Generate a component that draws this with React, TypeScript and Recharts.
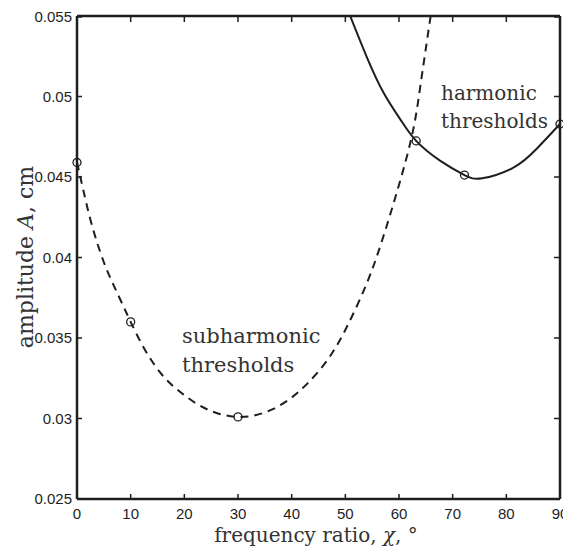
import React from "react";
import { ComposedChart, Line, Scatter, XAxis, YAxis } from "recharts";

const xTicks = [0, 10, 20, 30, 40, 50, 60, 70, 80, 90];
const yTicks = [0.025, 0.03, 0.035, 0.04, 0.045, 0.05, 0.055];

// subharmonic threshold (dashed)
const subX = [0, 1.1, 2.7, 4.9, 6.8, 8.6, 10, 12.1, 14.5, 17, 19.8, 22.9, 26.4, 30, 33.2, 36.6, 40, 43, 46.6, 50.3, 54, 56.5, 59.2, 62.3, 64, 65.9];
const subY = [0.0459, 0.0443, 0.0421, 0.0398, 0.0383, 0.037, 0.036, 0.0346, 0.0333, 0.0323, 0.0315, 0.0308, 0.0303, 0.0301, 0.0302, 0.0306, 0.0313, 0.0322, 0.0336, 0.0357, 0.0384, 0.0407, 0.0436, 0.0474, 0.0507, 0.055];

// harmonic threshold (solid)
const harX = [50.9, 54, 57.1, 60.3, 63.2, 67.7, 72.2, 75.5, 81.4, 85.8, 90];
const harY = [0.055, 0.05245, 0.05025, 0.04855, 0.04724, 0.046, 0.04512, 0.04492, 0.0456, 0.0468, 0.04829];

// circle markers
const markX = [0, 10, 30, 63.2, 72.2, 90];
const markY = [0.0459, 0.036, 0.0301, 0.04724, 0.04512, 0.04829];

const subData = subX.map((x, i) => ({ x, y: subY[i] }));
const harData = harX.map((x, i) => ({ x, y: harY[i] }));
const markData = markX.map((x, i) => ({ x, y: markY[i] }));

const INK = "#1e1e1e";
const TXT = "#333";
const SERIF = "'DejaVu Serif', serif";
const SANS = "'Liberation Sans', Arial, sans-serif";

const BottomTick = (props: any) => {
  const { x, y, payload } = props;
  return (
    <g>
      <line x1={x} x2={x} y1={y} y2={y - 5} stroke={INK} strokeWidth={1.5} />
      <text x={x} y={y + 20} textAnchor="middle" fontFamily={SANS} fontSize={15} fill={INK}>
        {payload.value}
      </text>
    </g>
  );
};

const LeftTick = (props: any) => {
  const { x, y, payload } = props;
  return (
    <g>
      <line x1={x} x2={x + 5} y1={y} y2={y} stroke={INK} strokeWidth={1.5} />
      <text x={x - 5} y={y} dy="0.36em" textAnchor="end" fontFamily={SANS} fontSize={15} fill={INK}>
        {String(payload.value)}
      </text>
    </g>
  );
};

const TopTick = (props: any) => {
  const { x, y } = props;
  return <line x1={x} x2={x} y1={y + 1} y2={y + 6} stroke={INK} strokeWidth={1.5} />;
};

const RightTick = (props: any) => {
  const { x, y } = props;
  return <line x1={x - 1} x2={x - 6} y1={y} y2={y} stroke={INK} strokeWidth={1.5} />;
};

export default function App() {
  return (
    <ComposedChart
      width={563}
      height={542}
      margin={{ top: 7, right: 10, bottom: 6, left: 9 }}
      style={{ background: "#fff" }}
    >
      <XAxis
        xAxisId={0}
        dataKey="x"
        type="number"
        domain={[0, 90]}
        ticks={xTicks}
        allowDataOverflow
        height={45}
        tickSize={0}
        tickMargin={0}
        tick={<BottomTick />}
        axisLine={{ stroke: INK, strokeWidth: 2.5 }}
        tickLine={false}
      />
      <XAxis
        xAxisId="top"
        orientation="top"
        dataKey="x"
        type="number"
        domain={[0, 90]}
        ticks={xTicks}
        height={1}
        tickSize={0}
        tickMargin={0}
        tick={<TopTick />}
        axisLine={{ stroke: INK, strokeWidth: 2.5 }}
        tickLine={false}
      />
      <YAxis
        yAxisId={0}
        type="number"
        domain={[0.025, 0.055]}
        ticks={yTicks}
        allowDataOverflow
        width={60}
        tickSize={0}
        tickMargin={0}
        tick={<LeftTick />}
        axisLine={{ stroke: INK, strokeWidth: 2.5 }}
        tickLine={false}
      />
      <YAxis
        yAxisId="r"
        orientation="right"
        type="number"
        domain={[0.025, 0.055]}
        ticks={yTicks}
        width={1}
        tickSize={0}
        tickMargin={0}
        tick={<RightTick />}
        axisLine={{ stroke: INK, strokeWidth: 2.5 }}
        tickLine={false}
      />
      <Line
        data={subData}
        dataKey="y"
        xAxisId={0}
        yAxisId={0}
        type="natural"
        stroke={INK}
        strokeWidth={2}
        strokeDasharray="8 6"
        dot={false}
        activeDot={false}
        isAnimationActive={false}
      />
      <Line
        data={harData}
        dataKey="y"
        xAxisId={0}
        yAxisId={0}
        type="natural"
        stroke={INK}
        strokeWidth={2}
        dot={false}
        activeDot={false}
        isAnimationActive={false}
      />
      <Scatter
        data={markData}
        dataKey="y"
        xAxisId="top"
        yAxisId="r"
        fill="none"
        stroke={INK}
        strokeWidth={1.3}
        shape={(p: any) => <circle cx={p.cx} cy={p.cy} r={4} fill="none" stroke={INK} strokeWidth={1.3} />}
        isAnimationActive={false}
      />
      <text x={433} y={92} fontFamily={SERIF} fontSize={20} fill={TXT}>harmonic</text>
      <text x={433} y={120} fontFamily={SERIF} fontSize={20} fill={TXT}>thresholds</text>
      <text x={174} y={335} fontFamily={SERIF} fontSize={21} fill={TXT}>subharmonic</text>
      <text x={174} y={364} fontFamily={SERIF} fontSize={21} fill={TXT}>thresholds</text>
      <text x={308} y={534} textAnchor="middle" fontFamily={SERIF} fontSize={20} fill={TXT}>
        frequency ratio, <tspan fontStyle="italic">χ</tspan>, °
      </text>
      <text
        x={25}
        y={249}
        textAnchor="middle"
        transform="rotate(-90, 25, 249)"
        fontFamily={SERIF}
        fontSize={22}
        fill={TXT}
      >
        amplitude <tspan fontStyle="italic">A</tspan>, cm
      </text>
    </ComposedChart>
  );
}
